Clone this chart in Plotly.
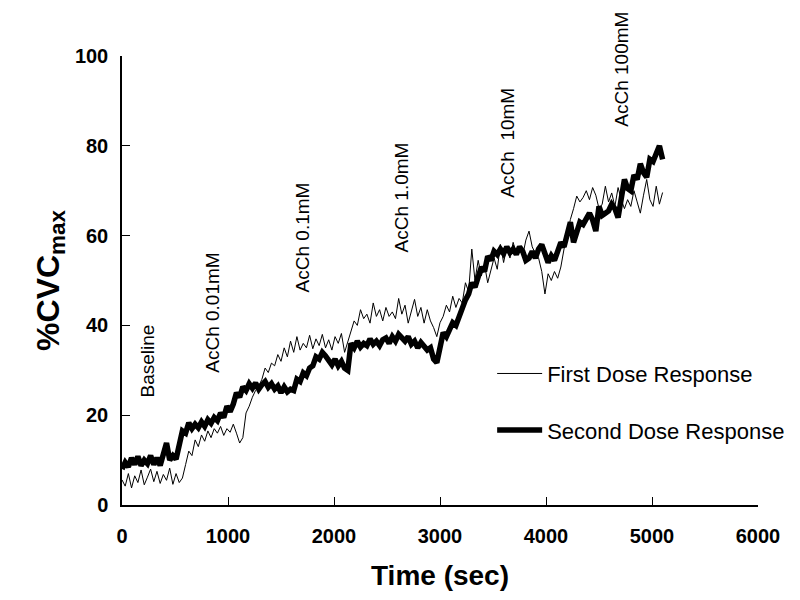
import plotly.graph_objects as go

# sampling grid (seconds)
time_s = list(range(0, 5101, 30))

first_dose = [
    5.6, 4.2, 7.0, 3.8, 6.5, 5.0, 7.8, 4.5, 6.2, 8.0,
    5.2, 7.5, 4.8, 6.8, 5.5, 8.2, 4.6, 7.0, 5.0, 6.0,
    9.0, 12.0, 11.0, 14.5, 13.0, 15.6, 14.2, 16.5, 15.0, 17.0,
    16.0, 17.5, 15.5, 17.0, 16.2, 18.0, 16.0, 13.8, 15.0, 20.5,
    22.0, 24.0, 25.5, 26.5, 28.0, 30.5, 29.5, 31.6, 31.0, 33.5,
    32.0, 35.0, 33.0, 36.5, 34.0, 37.5, 34.5, 36.0, 35.0, 37.8,
    34.8, 37.0, 35.5, 38.0, 35.0, 36.8, 34.5, 37.5, 36.0, 38.2,
    34.0, 36.5, 39.0, 41.0, 40.0, 43.5, 41.5, 42.5, 40.5, 45.0,
    42.0, 43.5, 41.0, 44.0, 42.0, 43.0, 41.5, 46.0, 42.5, 44.5,
    40.5, 43.0, 45.8, 42.0, 44.0, 40.5, 43.5, 41.0, 39.5, 37.5,
    40.6, 42.0, 44.5, 43.0, 46.5, 44.0, 46.0, 45.0, 49.5, 47.5,
    57.0, 50.0, 54.5, 51.0, 53.5, 49.5, 52.0, 55.0, 52.5, 58.0,
    54.0, 57.5, 55.0, 58.5, 56.0, 57.0, 55.5, 59.0, 61.0, 57.5,
    56.0, 55.0, 52.0, 47.0, 51.5, 50.0, 52.0, 50.5, 53.0, 57.0,
    60.0, 63.6, 66.0, 68.8, 67.5, 68.5, 70.0, 68.0, 70.7, 69.0,
    66.0, 67.0, 71.0, 67.5, 69.5, 66.5, 70.7, 68.0, 66.0, 68.0,
    66.5, 70.0, 67.5, 65.0, 69.0, 72.5, 68.0, 66.5, 71.0, 67.0,
    69.6,
]

second_dose = [
    8.0, 9.5, 8.5, 10.5, 9.0, 10.8, 8.8, 10.0, 9.2, 11.0,
    9.0, 10.5, 8.8, 11.5, 13.8, 10.0, 11.0, 10.2, 14.0, 16.5,
    16.0, 18.3, 17.0, 18.0, 17.2, 18.5, 17.5, 19.0, 18.2, 19.5,
    18.8, 20.5, 19.5, 22.0, 20.8, 22.5, 25.0, 24.0, 26.3, 25.5,
    27.0, 26.0, 27.2, 25.8, 26.8, 27.5, 26.2, 27.0, 25.8, 26.5,
    25.0, 26.3, 25.2, 25.8, 25.5, 28.0, 27.5, 29.4, 28.8, 30.5,
    31.0, 33.0, 32.5, 34.0, 33.2, 32.0, 31.2, 32.5, 31.0, 32.0,
    30.5, 30.0, 36.0, 35.0, 36.5, 35.2, 36.0, 35.5, 37.0, 35.8,
    36.5, 35.5, 36.8, 37.2, 36.0, 37.5, 36.5, 38.0, 37.0, 36.5,
    37.5, 35.8, 36.5, 35.0, 36.2, 35.5, 34.5, 35.0, 32.5, 31.7,
    35.0, 38.4, 37.5, 39.5, 40.6, 40.0, 42.0, 43.5, 45.7, 47.0,
    49.5, 48.5, 51.0, 53.0, 52.0, 55.4, 54.5, 56.5, 55.8, 57.0,
    56.0, 57.5, 56.2, 57.0, 55.8, 57.5, 56.5, 54.5, 55.0, 56.5,
    55.0, 57.0, 58.0, 56.0, 54.0, 55.5, 54.5, 56.5, 58.5, 57.5,
    61.0, 63.0, 58.5, 61.0, 63.0, 62.5, 64.0, 65.0, 63.5, 61.0,
    66.5, 64.5, 65.0, 65.5, 67.0, 66.0, 64.0, 68.0, 72.5, 70.5,
    70.0, 73.5, 72.5, 76.0, 74.0, 73.0, 77.0, 76.5, 78.5, 80.0,
    77.0,
]

dose_labels = ["Baseline", "AcCh 0.01mM", "AcCh 0.1mM", "AcCh 1.0mM", "AcCh  10mM", "AcCh 100mM"]
dose_label_x = [236, 858, 1698, 2641, 3641, 4717]
dose_label_y = [23.4, 29.0, 46.9, 55.8, 68.0, 83.7]

FONT = "Liberation Sans, Arial, Helvetica, sans-serif"

fig = go.Figure()
fig.add_trace(go.Scatter(
    x=time_s, y=first_dose, mode="lines", name="First Dose Response",
    line=dict(color="black", width=1), legendgroup="a",
))
fig.add_trace(go.Scatter(
    x=time_s, y=second_dose, mode="lines", name="Second Dose Response",
    line=dict(color="black", width=5.5), legendgroup="b",
))

for txt, xv, yv in zip(dose_labels, dose_label_x, dose_label_y):
    fig.add_annotation(
        x=xv, y=yv, text=txt, showarrow=False, textangle=-90,
        xref="x", yref="y", xanchor="center", yanchor="bottom",
        font=dict(family=FONT, size=19, color="black"),
    )

fig.update_layout(
    width=800, height=600,
    paper_bgcolor="white", plot_bgcolor="white",
    margin=dict(l=114, r=50, t=48, b=103, autoexpand=False),
    font=dict(family=FONT, color="black"),
    showlegend=True,
    legend=dict(
        x=0.582, y=0.229, xanchor="left", yanchor="middle",
        bgcolor="rgba(0,0,0,0)", borderwidth=0,
        font=dict(family=FONT, size=22, color="black"),
        traceorder="grouped", tracegroupgap=25, itemwidth=45,
    ),
    xaxis=dict(
        range=[0, 6000], dtick=1000, tick0=0, automargin=False,
        showgrid=False, zeroline=False,
        showline=True, linecolor="black", linewidth=1.5,
        ticks="inside", ticklen=8, tickwidth=1.2, tickcolor="black",
        ticklabelstandoff=12,
        tickfont=dict(family=FONT, size=20, color="black", weight="bold"),
        title=dict(text="<b>Time (sec)</b>", standoff=20,
                   font=dict(family=FONT, size=28, color="black")),
    ),
    yaxis=dict(
        range=[0, 100], dtick=20, tick0=0, automargin=False,
        showgrid=False, zeroline=False,
        showline=True, linecolor="black", linewidth=1.5,
        ticks="inside", ticklen=8, tickwidth=1.2, tickcolor="black",
        ticklabelstandoff=8,
        tickfont=dict(family=FONT, size=20, color="black", weight="bold"),
        title=dict(text="<b>%CVC<sub>max</sub></b>", standoff=6,
                   font=dict(family=FONT, size=32, color="black")),
    ),
)

fig.write_html("out.html")
